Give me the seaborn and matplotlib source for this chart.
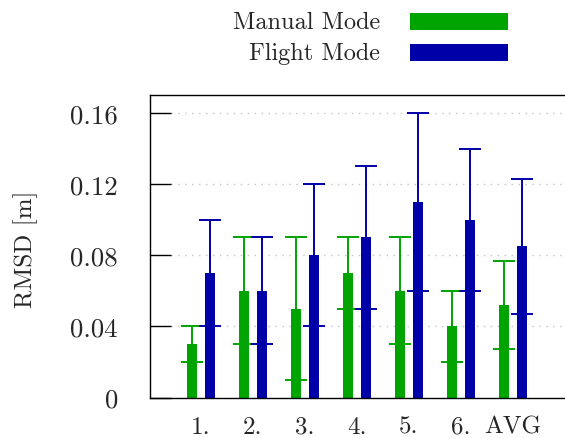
import numpy as np
import pandas as pd
import matplotlib
matplotlib.use("Agg")
import matplotlib.pyplot as plt
from matplotlib.patches import Rectangle
import seaborn as sns

categories = ["1.", "2.", "3.", "4.", "5.", "6.", "AVG"]
modes = ["Manual Mode", "Flight Mode"]
manual_mean = [0.03, 0.06, 0.05, 0.07, 0.06, 0.04, 0.052]
manual_min = [0.02, 0.03, 0.01, 0.05, 0.03, 0.02, 0.027]
manual_max = [0.04, 0.09, 0.09, 0.09, 0.09, 0.06, 0.077]
flight_mean = [0.07, 0.06, 0.08, 0.09, 0.11, 0.10, 0.085]
flight_min = [0.04, 0.03, 0.04, 0.05, 0.06, 0.06, 0.047]
flight_max = [0.10, 0.09, 0.12, 0.13, 0.16, 0.14, 0.123]
yticks = [0, 0.04, 0.08, 0.12, 0.16]
ytick_labels = ["0", "0.04", "0.08", "0.12", "0.16"]

colors = {"Manual Mode": "#00A400", "Flight Mode": "#0000A8"}

sns.set_theme(style="white")
plt.rcParams["font.family"] = ["cmr10", "DejaVu Serif"]
plt.rcParams["axes.formatter.use_mathtext"] = True
FS = 17.5

df = pd.DataFrame({
    "cat": categories * 2,
    "mode": [modes[0]] * len(categories) + [modes[1]] * len(categories),
    "val": manual_mean + flight_mean,
})

fig = plt.figure(figsize=(5.65, 4.39), dpi=100)
ax = fig.add_axes([149.5 / 565, 1 - 398.5 / 439, 1 - 149.5 / 565, (398.5 - 95.5) / 439])

sns.barplot(data=df, x="cat", y="val", hue="mode", order=categories, hue_order=modes,
            palette=colors, width=0.68, gap=0.44, errorbar=None, legend=False,
            saturation=1, ax=ax, zorder=2, linewidth=0)

lows = {modes[0]: manual_min, modes[1]: flight_min}
highs = {modes[0]: manual_max, modes[1]: flight_max}
means = {modes[0]: manual_mean, modes[1]: flight_mean}
offsets = {modes[0]: -0.17, modes[1]: 0.17}
for m in modes:
    xs = np.arange(len(categories)) + offsets[m]
    mu = np.array(means[m])
    lo = mu - np.array(lows[m])
    hi = np.array(highs[m]) - mu
    ax.errorbar(xs, mu, yerr=[lo, hi], fmt="none", ecolor=colors[m],
                elinewidth=1.4, capsize=7.9, capthick=1.4, zorder=3)

ax.set_xlim(-0.99, 7.0)
ax.set_ylim(0, 0.1704)
ax.set_yticks(yticks)
ax.set_yticklabels(ytick_labels)
ax.set_xlabel("")
ax.set_ylabel("")
ax.yaxis.grid(True, color="#c4c4c4", linestyle=(0, (1, 4)), linewidth=1.0, zorder=0)
ax.xaxis.grid(False)
ax.set_axisbelow(True)

for s in ["left", "bottom", "top"]:
    ax.spines[s].set_visible(True)
    ax.spines[s].set_color("black")
    ax.spines[s].set_linewidth(1.0)
ax.spines["right"].set_visible(False)

ax.tick_params(axis="y", direction="in", length=15, width=1.0, color="black",
               labelsize=19.3, pad=22.7, left=True, right=False)
ax.tick_params(axis="x", length=0, labelsize=18, pad=13)

fig.text(25.5 / 565, 1 - 249 / 439, "RMSD [m]", rotation=90, ha="center", va="center",
         fontsize=18)

leg_y = [22.5, 53.5]
for m, yc in zip(modes, leg_y):
    fig.text(380 / 565, 1 - yc / 439, m, ha="right", va="center", fontsize=FS)
    fig.add_artist(Rectangle((410 / 565, 1 - (yc + 8.5) / 439), 98 / 565, 17 / 439,
                             transform=fig.transFigure, facecolor=colors[m],
                             edgecolor="none"))

fig.savefig("out.png", dpi=100)
